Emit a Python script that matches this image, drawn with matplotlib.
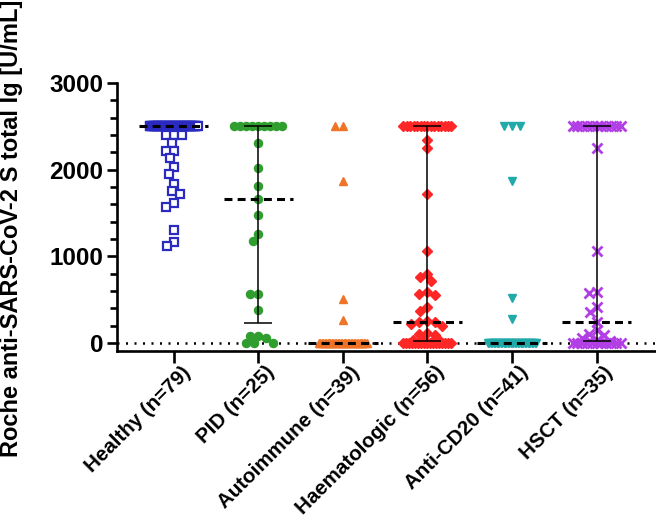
import numpy as np
import matplotlib
matplotlib.use("Agg")
import matplotlib.pyplot as plt
from matplotlib.transforms import ScaledTranslation

plt.rcParams['font.family'] = ['Liberation Sans', 'DejaVu Sans']
plt.rcParams['font.weight'] = 'bold'

# Data (U/mL)
groups = ['Healthy (n=79)', 'PID (n=25)', 'Autoimmune (n=39)',
          'Haematologic (n=56)', 'Anti-CD20 (n=41)', 'HSCT (n=35)']

healthy = [2500] * 62 + [2400, 2400, 2400, 2310, 2220, 2220, 2140, 2030, 1955,
                         1840, 1750, 1715, 1610, 1575, 1300, 1170, 1125]
pid = [2500] * 9 + [2306, 2017, 1816, 1658, 1477, 1257, 1180, 571, 571, 386,
                    80, 80, 60, 0, 0, 0]
autoimmune = [2500, 2500, 1870, 505, 262] + [0] * 34
haematologic = [2500] * 15 + [2344, 2248, 1716, 1064, 802, 756, 717, 590, 571,
                              551, 416, 367, 250, 243, 243, 224, 193, 116, 108,
                              97, 40, 30, 20, 10] + [0] * 17
anti_cd20 = [2500, 2500, 2500, 1873, 525, 274] + [0] * 35
hsct = [2500] * 11 + [2248, 1064, 590, 578, 416, 359, 243, 147, 108, 89, 60,
                      40, 20] + [0] * 11

medians = [2500, 1658, 0, 248, 0, 245]
q1 = [2500, 231, 0, 20, 0, 20]
q3 = [2500, 2500, 0, 2500, 0, 2500]

all_data = [healthy, pid, autoimmune, haematologic, anti_cd20, hsct]
colors = ['#2a2ac0', '#2f9e2f', '#f07428', '#ff2626', '#22aaaa', '#b23ee6']
markers = ['s', 'o', '^', 'D', 'v', 'x']

fig = plt.figure(figsize=(6.56, 5.23), dpi=100)
ax = fig.add_axes([117 / 656, 1 - 351 / 523, 538 / 656, 268 / 523])
ax.set_xlim(-0.67, 5.69)
ax.set_ylim(-92, 3000)

bbox = ax.get_window_extent()
xpx = bbox.width / (5.69 + 0.67)
ypx = bbox.height / 3092.0


def swarm(vals, d=8.0, w=24.0):
    # simple beeswarm: big ties spread evenly, others placed greedily
    vals = np.asarray(vals, float)
    offs = np.zeros(len(vals))
    uniq, counts = np.unique(vals, return_counts=True)
    big = [u for u, c in zip(uniq, counts) if c * d > 2 * w]
    for u in big:
        idx = np.where(vals == u)[0]
        offs[idx] = np.linspace(-w, w, len(idx))
    placed = []
    cands = sorted(np.arange(-w, w + 0.5, 1.0), key=lambda c: (abs(c), c))
    for i in np.argsort(-vals, kind='stable'):
        if vals[i] in big:
            continue
        y = vals[i] * ypx
        best, bestd = 0.0, -1
        for c in cands:
            md = min([np.hypot(c - px, y - py) for px, py in placed] or [99])
            if md >= d:
                best = c
                break
            if md > bestd:
                best, bestd = c, md
        offs[i] = best
        placed.append((best, y))
    return offs / xpx


for i, vals in enumerate(all_data):
    x = i + swarm(vals)
    if markers[i] == 's':
        ax.plot(x, vals, 's', ms=5.3, mfc='white', mec=colors[i], mew=1.6,
                ls='none', zorder=2)
    elif markers[i] == 'x':
        ax.plot(x, vals, 'x', ms=7.5, mec=colors[i], mew=2, ls='none', zorder=2)
    else:
        size = {'o': 5.8, '^': 5.8, 'v': 5.8, 'D': 4.6}[markers[i]]
        ax.plot(x, vals, markers[i], ms=size, color=colors[i], mec=colors[i],
                ls='none', zorder=2)

ax.axhline(0, color='black', lw=1.8, ls=(0, (0.8, 2.6)), zorder=1)

for i in range(len(groups)):
    ax.plot([i - 0.41, i + 0.41], [medians[i], medians[i]], color='black',
            lw=2.2, ls=(0, (2.6, 1.7)), zorder=4)
    if q3[i] > q1[i]:
        ax.errorbar(i, medians[i], yerr=[[medians[i] - q1[i]], [q3[i] - medians[i]]],
                    fmt='none', ecolor='black', elinewidth=1.1, capsize=10,
                    capthick=1.1, zorder=5)

ax.spines['top'].set_visible(False)
ax.spines['right'].set_visible(False)
ax.spines['left'].set_linewidth(1.9)
ax.spines['bottom'].set_linewidth(1.9)
ax.spines['left'].set_bounds(-92, 3000)

ax.set_yticks([0, 1000, 2000, 3000])
ax.set_yticks(np.arange(0, 3001, 200), minor=True)
ax.tick_params(axis='y', which='major', length=7, width=1.9, labelsize=17.5, pad=3)
ax.tick_params(axis='y', which='minor', length=5, width=1.9)
ax.set_xticks(range(len(groups)))
ax.set_xticklabels(groups, rotation=45, ha='right', va='top',
                   rotation_mode='anchor', fontsize=14.8, fontweight='bold')
ax.tick_params(axis='x', length=8.5, width=1.9, pad=0)
shift = ScaledTranslation(7 / 100, 0, fig.dpi_scale_trans)
for lab in ax.get_xticklabels():
    lab.set_transform(lab.get_transform() + shift)
for lab in ax.get_yticklabels():
    lab.set_fontweight('bold')

fig.text(12 / 656, 1.0, 'Roche anti-SARS-CoV-2 S total Ig [U/mL]', rotation=90,
         ha='center', va='top', fontsize=17, fontweight='bold')

fig.savefig('out.png', dpi=100)
